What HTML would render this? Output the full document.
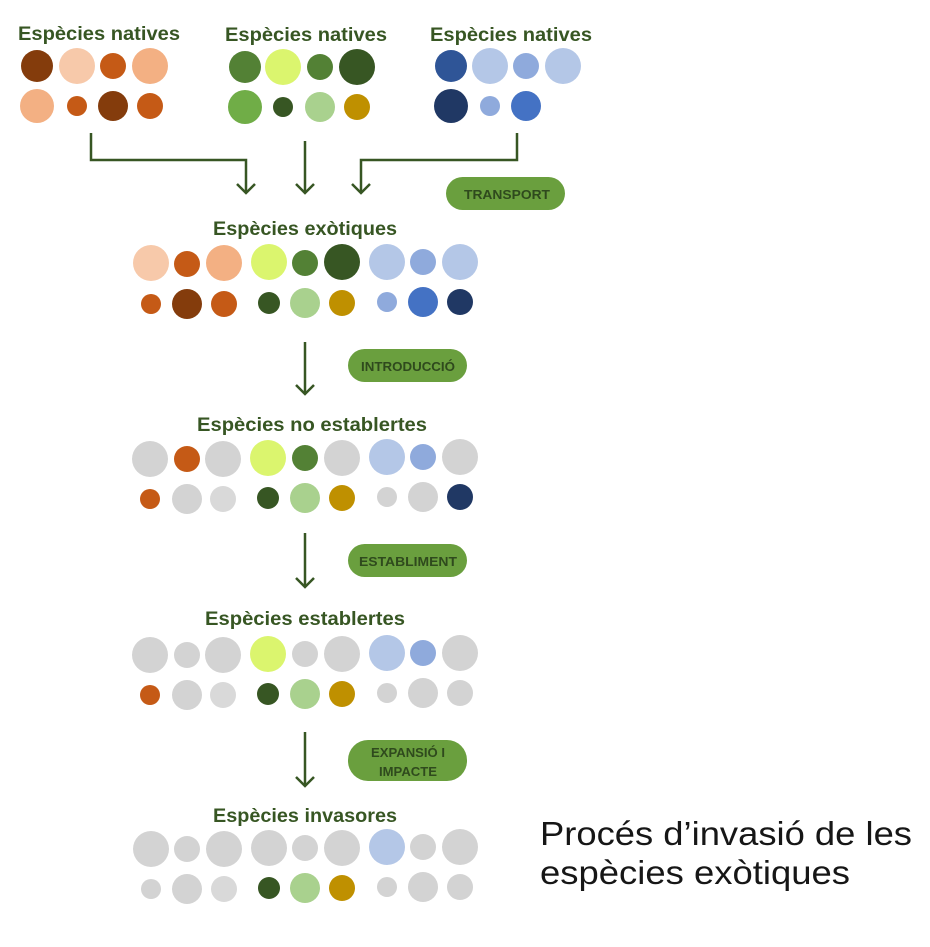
<!DOCTYPE html>
<html><head><meta charset="utf-8"><style>
html,body{margin:0;padding:0;background:#fff;}
svg{display:block;}
.t{font-family:"Liberation Sans",sans-serif;font-weight:bold;fill:#375623;font-size:19px;text-anchor:middle;}
.p{font-family:"Liberation Sans",sans-serif;font-weight:bold;fill:#2f4a1d;font-size:13px;text-anchor:middle;}
.b{font-family:"Liberation Sans",sans-serif;fill:#161616;font-size:33px;}
</style></head><body>
<svg width="930" height="947" viewBox="0 0 930 947" xmlns="http://www.w3.org/2000/svg">
<g class="t">
<text x="99" y="40" textLength="162" lengthAdjust="spacingAndGlyphs">Espècies natives</text>
<text x="306" y="41" textLength="162" lengthAdjust="spacingAndGlyphs">Espècies natives</text>
<text x="511" y="41" textLength="162" lengthAdjust="spacingAndGlyphs">Espècies natives</text>
<text x="305" y="235" textLength="184" lengthAdjust="spacingAndGlyphs">Espècies exòtiques</text>
<text x="312" y="431" textLength="230" lengthAdjust="spacingAndGlyphs">Espècies no establertes</text>
<text x="305" y="625" textLength="200" lengthAdjust="spacingAndGlyphs">Espècies establertes</text>
<text x="305" y="822" textLength="184" lengthAdjust="spacingAndGlyphs">Espècies invasores</text>
</g>
<g>
<circle cx="37" cy="66" r="16" fill="#843c0c"/><circle cx="77" cy="66" r="18" fill="#f7c9aa"/><circle cx="113" cy="66" r="13" fill="#c55a16"/><circle cx="150" cy="66" r="18" fill="#f3b083"/>
<circle cx="37" cy="106" r="17" fill="#f3b083"/><circle cx="77" cy="106" r="10" fill="#c55a16"/><circle cx="113" cy="106" r="15" fill="#843c0c"/><circle cx="150" cy="106" r="13" fill="#c55a16"/>
<circle cx="245" cy="67" r="16" fill="#538135"/><circle cx="283" cy="67" r="18" fill="#dbf56e"/><circle cx="320" cy="67" r="13" fill="#538135"/><circle cx="357" cy="67" r="18" fill="#375623"/>
<circle cx="245" cy="107" r="17" fill="#70ad47"/><circle cx="283" cy="107" r="10" fill="#375623"/><circle cx="320" cy="107" r="15" fill="#a9d18e"/><circle cx="357" cy="107" r="13" fill="#bf9000"/>
<circle cx="451" cy="66" r="16" fill="#2f5597"/><circle cx="490" cy="66" r="18" fill="#b4c7e7"/><circle cx="526" cy="66" r="13" fill="#8faadc"/><circle cx="563" cy="66" r="18" fill="#b4c7e7"/>
<circle cx="451" cy="106" r="17" fill="#203864"/><circle cx="490" cy="106" r="10" fill="#8faadc"/><circle cx="526" cy="106" r="15" fill="#4472c4"/>
</g>
<g fill="none" stroke="#375623" stroke-width="2.5">
<polyline points="91,133 91,160 246,160 246,193"/><polyline points="237,184 246,193 255,184"/>
<line x1="305" y1="141" x2="305" y2="193"/><polyline points="296,184 305,193 314,184"/>
<polyline points="517,133 517,160 361,160 361,193"/><polyline points="352,184 361,193 370,184"/>
<line x1="305" y1="342" x2="305" y2="394"/><polyline points="296,385 305,394 314,385"/>
<line x1="305" y1="533" x2="305" y2="587"/><polyline points="296,578 305,587 314,578"/>
<line x1="305" y1="732" x2="305" y2="786"/><polyline points="296,777 305,786 314,777"/>
</g>
<g fill="#6a9f3e">
<rect x="446" y="177" width="119" height="33" rx="16.5"/>
<rect x="348" y="349" width="119" height="33" rx="16.5"/>
<rect x="348" y="544" width="119" height="33" rx="16.5"/>
<rect x="348" y="740" width="119" height="41" rx="20"/>
</g>
<g class="p">
<text x="507" y="199" textLength="86" lengthAdjust="spacingAndGlyphs">TRANSPORT</text>
<text x="408" y="371" textLength="94" lengthAdjust="spacingAndGlyphs">INTRODUCCIÓ</text>
<text x="408" y="566" textLength="98" lengthAdjust="spacingAndGlyphs">ESTABLIMENT</text>
<text x="408" y="757" textLength="74" lengthAdjust="spacingAndGlyphs">EXPANSIÓ I</text>
<text x="408" y="776" textLength="58" lengthAdjust="spacingAndGlyphs">IMPACTE</text>
</g>
<g>
<circle cx="151" cy="263" r="18" fill="#f7c9aa"/><circle cx="187" cy="264" r="13" fill="#c55a16"/><circle cx="224" cy="263" r="18" fill="#f3b083"/>
<circle cx="269" cy="262" r="18" fill="#dbf56e"/><circle cx="305" cy="263" r="13" fill="#538135"/><circle cx="342" cy="262" r="18" fill="#375623"/>
<circle cx="387" cy="262" r="18" fill="#b4c7e7"/><circle cx="423" cy="262" r="13" fill="#8faadc"/><circle cx="460" cy="262" r="18" fill="#b4c7e7"/>
<circle cx="151" cy="304" r="10" fill="#c55a16"/><circle cx="187" cy="304" r="15" fill="#843c0c"/><circle cx="224" cy="304" r="13" fill="#c55a16"/>
<circle cx="269" cy="303" r="11" fill="#375623"/><circle cx="305" cy="303" r="15" fill="#a9d18e"/><circle cx="342" cy="303" r="13" fill="#bf9000"/>
<circle cx="387" cy="302" r="10" fill="#8faadc"/><circle cx="423" cy="302" r="15" fill="#4472c4"/><circle cx="460" cy="302" r="13" fill="#203864"/>
</g>
<g>
<circle cx="150" cy="459" r="18" fill="#d3d3d3"/><circle cx="187" cy="459" r="13" fill="#c55a16"/><circle cx="223" cy="459" r="18" fill="#d3d3d3"/>
<circle cx="268" cy="458" r="18" fill="#dbf56e"/><circle cx="305" cy="458" r="13" fill="#538135"/><circle cx="342" cy="458" r="18" fill="#d3d3d3"/>
<circle cx="387" cy="457" r="18" fill="#b4c7e7"/><circle cx="423" cy="457" r="13" fill="#8faadc"/><circle cx="460" cy="457" r="18" fill="#d3d3d3"/>
<circle cx="150" cy="499" r="10" fill="#c55a16"/><circle cx="187" cy="499" r="15" fill="#d3d3d3"/><circle cx="223" cy="499" r="13" fill="#d9d9d9"/>
<circle cx="268" cy="498" r="11" fill="#375623"/><circle cx="305" cy="498" r="15" fill="#a9d18e"/><circle cx="342" cy="498" r="13" fill="#bf9000"/>
<circle cx="387" cy="497" r="10" fill="#d3d3d3"/><circle cx="423" cy="497" r="15" fill="#d3d3d3"/><circle cx="460" cy="497" r="13" fill="#203864"/>
</g>
<g>
<circle cx="150" cy="655" r="18" fill="#d3d3d3"/><circle cx="187" cy="655" r="13" fill="#d3d3d3"/><circle cx="223" cy="655" r="18" fill="#d3d3d3"/>
<circle cx="268" cy="654" r="18" fill="#dbf56e"/><circle cx="305" cy="654" r="13" fill="#d3d3d3"/><circle cx="342" cy="654" r="18" fill="#d3d3d3"/>
<circle cx="387" cy="653" r="18" fill="#b4c7e7"/><circle cx="423" cy="653" r="13" fill="#8faadc"/><circle cx="460" cy="653" r="18" fill="#d3d3d3"/>
<circle cx="150" cy="695" r="10" fill="#c55a16"/><circle cx="187" cy="695" r="15" fill="#d3d3d3"/><circle cx="223" cy="695" r="13" fill="#d9d9d9"/>
<circle cx="268" cy="694" r="11" fill="#375623"/><circle cx="305" cy="694" r="15" fill="#a9d18e"/><circle cx="342" cy="694" r="13" fill="#bf9000"/>
<circle cx="387" cy="693" r="10" fill="#d3d3d3"/><circle cx="423" cy="693" r="15" fill="#d3d3d3"/><circle cx="460" cy="693" r="13" fill="#d3d3d3"/>
</g>
<g>
<circle cx="151" cy="849" r="18" fill="#d3d3d3"/><circle cx="187" cy="849" r="13" fill="#d3d3d3"/><circle cx="224" cy="849" r="18" fill="#d3d3d3"/>
<circle cx="269" cy="848" r="18" fill="#d3d3d3"/><circle cx="305" cy="848" r="13" fill="#d3d3d3"/><circle cx="342" cy="848" r="18" fill="#d3d3d3"/>
<circle cx="387" cy="847" r="18" fill="#b4c7e7"/><circle cx="423" cy="847" r="13" fill="#d3d3d3"/><circle cx="460" cy="847" r="18" fill="#d3d3d3"/>
<circle cx="151" cy="889" r="10" fill="#d3d3d3"/><circle cx="187" cy="889" r="15" fill="#d3d3d3"/><circle cx="224" cy="889" r="13" fill="#d9d9d9"/>
<circle cx="269" cy="888" r="11" fill="#375623"/><circle cx="305" cy="888" r="15" fill="#a9d18e"/><circle cx="342" cy="888" r="13" fill="#bf9000"/>
<circle cx="387" cy="887" r="10" fill="#d3d3d3"/><circle cx="423" cy="887" r="15" fill="#d3d3d3"/><circle cx="460" cy="887" r="13" fill="#d3d3d3"/>
</g>
<text class="b" x="540" y="845" textLength="372" lengthAdjust="spacingAndGlyphs">Procés d’invasió de les</text>
<text class="b" x="540" y="884" textLength="310" lengthAdjust="spacingAndGlyphs">espècies exòtiques</text>
</svg>
</body></html>
